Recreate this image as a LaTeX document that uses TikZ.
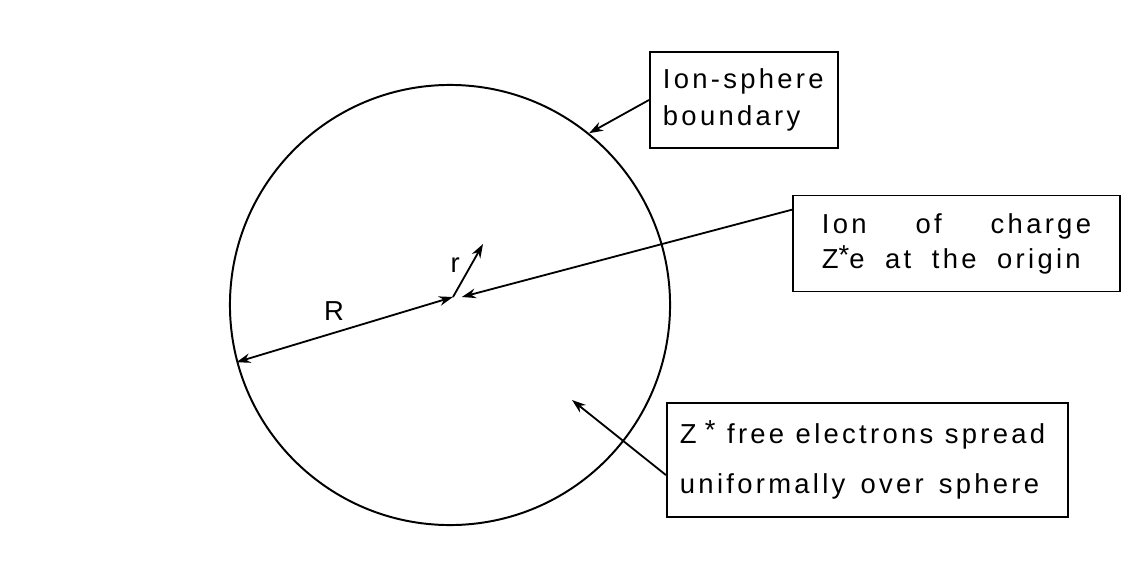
\documentclass[tikz,border=0pt]{standalone}
\usepackage{fontspec}
\setmainfont{Liberation Sans}[LetterSpace=12]
\usepackage{tikz}
\usetikzlibrary{arrows.meta, positioning, calc}
\newcommand{\boxfont}[1]{\fontsize{19.5}{#1}\selectfont}
\newcommand{\gap}[1][0.42em]{\hspace{#1}}
\tikzset{
	labelbox/.style ={rectangle, draw=black, line width=1.4pt, align=left, inner xsep=0pt, minimum height=2.4cm, font=\boxfont{26}},
	pointer/.style  ={-{Stealth[length=3.5mm, width=2.4mm]}, line width=1.3pt},
	dimline/.style  ={{Stealth[length=3.5mm, width=2.4mm]}-{Stealth[length=3.5mm, width=2.4mm]}, line width=1.3pt},
}
\begin{document}
\begin{tikzpicture}[x=0.025cm, y=-0.025cm]
	\useasboundingbox (0,0) rectangle (1130,578);
	% sphere
	\node[circle, draw, line width=1.4pt, minimum size=11cm, inner sep=0pt] (sphere) at (450,305) {};
	\coordinate (origin) at (453,297);
	\coordinate (rtip) at (483,244);
	% labels
	\node[labelbox, minimum width=4.7cm, text width=4.05cm] (boundary) at (744,100) {Ion-sphere\\boundary};
	\node[labelbox, minimum width=8.175cm, text width=6.725cm, font=\boxfont{25}] (ion) at (956.5,243.5) {Ion\hfill of\hfill charge\hspace*{0.5cm}\\Z\raisebox{0.25ex}{*}e\gap[0.75em]at\gap[0.75em]the\gap[0.75em]origin};
	\node[labelbox, minimum width=10.025cm, minimum height=2.85cm, text width=9.375cm, font=\boxfont{35.5}] (electrons) at (867.5,460) {Z\gap[0.3em]\raisebox{0.3ex}{*}\gap free\gap electrons\gap spread\\uniformally\gap[0.55em]over\gap[0.55em]sphere};
	\coordinate (cloud) at (572,400);
	% connectors
	\draw[pointer] (boundary.west) -- (sphere.51);
	\draw[pointer] ($(ion.north west)!0.155!(ion.south west)$) -- ([xshift=0.22cm]origin);
	\draw[pointer] ($(electrons.north west)!0.63!(electrons.south west)$) -- (cloud);
	\draw[dimline] (origin) -- (sphere.195.3) node[pos=0.55, above=5pt, font=\boxfont{22}] (Rlab) {R};
	\draw[pointer] (origin) -- (rtip) node[pos=0.6, left=4pt, font=\boxfont{22}] (rlab) {r};
\end{tikzpicture}
\end{document}
